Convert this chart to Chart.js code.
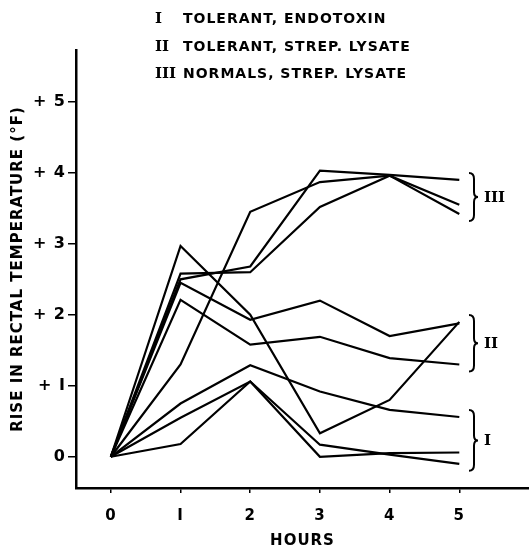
<!DOCTYPE html>
<html lang="en">

<head>
    <meta charset="UTF-8">
    <title>Rise in rectal temperature</title>
    <script src="https://cdn.jsdelivr.net/npm/chart.js"></script>
    <style>
        body {
            margin: 0;
            background: #fff;
        }

        #chart-container {
            width: 529px;
            height: 550px;
        }
    </style>
</head>

<body>
    <div id="chart-container">
        <canvas id="tempChart" width="529" height="550"></canvas>
    </div>

    <script>
        // hours after injection
        const hours = [0, 1, 2, 3, 4, 5];
        const yTicks = [0, 1, 2, 3, 4, 5];

        // I  tolerant, endotoxin
        const tolEndo1 = [0, 0.75, 1.29, 0.92, 0.66, 0.56];
        const tolEndo2 = [0, 0.55, 1.06, 0.17, 0.03, -0.1];
        const tolEndo3 = [0, 0.18, 1.06, 0.0, 0.05, 0.06];
        // II tolerant, strep. lysate
        const tolStrep1 = [0, 2.97, 2.0, 0.33, 0.8, 1.9];
        const tolStrep2 = [0, 2.45, 1.93, 2.2, 1.7, 1.88];
        const tolStrep3 = [0, 2.21, 1.58, 1.69, 1.39, 1.3];
        // III normals, strep. lysate
        const normStrep1 = [0, 1.3, 3.45, 3.87, 3.96, 3.55];
        const normStrep2 = [0, 2.5, 2.68, 4.03, 3.97, 3.9];
        const normStrep3 = [0, 2.58, 2.6, 3.52, 3.96, 3.42];

        const groups = [
            { numeral: 'I', text: 'TOLERANT, ENDOTOXIN', series: [tolEndo1, tolEndo2, tolEndo3] },
            { numeral: 'II', text: 'TOLERANT, STREP. LYSATE', series: [tolStrep1, tolStrep2, tolStrep3] },
            { numeral: 'III', text: 'NORMALS, STREP. LYSATE', series: [normStrep1, normStrep2, normStrep3] }
        ];

        const FONT = '"DejaVu Sans", sans-serif';
        const NUMFONT = '"DejaVu Serif", serif';

        const datasets = [];
        groups.forEach(g => {
            g.series.forEach(s => {
                datasets.push({
                    label: g.numeral,
                    data: hours.map((h, i) => ({ x: h, y: s[i] })),
                    borderColor: '#000',
                    borderWidth: 2.2,
                    pointRadius: 0,
                    tension: 0,
                    fill: false
                });
            });
        });

        // lettering in the original is widely spaced
        const spacing = {
            id: 'spacing',
            beforeUpdate(chart) { chart.ctx.letterSpacing = '1px'; },
            beforeDraw(chart) { chart.ctx.letterSpacing = '1px'; }
        };

        // key at the top and the braces on the right
        const decorations = {
            id: 'decorations',
            afterDraw(chart) {
                const ctx = chart.ctx;
                const ys = chart.scales.y;
                ctx.save();
                ctx.fillStyle = '#000';
                ctx.strokeStyle = '#000';
                ctx.textBaseline = 'middle';

                // key
                const keyY = [19, 47, 74];
                groups.forEach((g, i) => {
                    ctx.letterSpacing = '0px';
                    ctx.font = 'bold 15px ' + NUMFONT;
                    ctx.textAlign = 'left';
                    ctx.fillText(g.numeral, 155, keyY[i]);
                    ctx.letterSpacing = '1px';
                    ctx.font = 'bold 14px ' + FONT;
                    ctx.fillText(g.text, 183, keyY[i]);
                });

                // braces at the end of each group
                groups.forEach(g => {
                    const ends = g.series.map(s => s[s.length - 1]);
                    const top = ys.getPixelForValue(Math.max(...ends)) - 7;
                    const bot = ys.getPixelForValue(Math.min(...ends)) + 7;
                    const mid = (top + bot) / 2;
                    const x0 = 469;
                    ctx.lineWidth = 2;
                    ctx.beginPath();
                    ctx.moveTo(x0, top);
                    ctx.quadraticCurveTo(x0 + 5, top, x0 + 5, top + 6);
                    ctx.lineTo(x0 + 5, mid - 5);
                    ctx.quadraticCurveTo(x0 + 5, mid, x0 + 9, mid);
                    ctx.quadraticCurveTo(x0 + 5, mid, x0 + 5, mid + 5);
                    ctx.lineTo(x0 + 5, bot - 6);
                    ctx.quadraticCurveTo(x0 + 5, bot, x0, bot);
                    ctx.stroke();
                    ctx.letterSpacing = '0px';
                    ctx.font = 'bold 15px ' + NUMFONT;
                    ctx.textAlign = 'left';
                    ctx.fillText(g.numeral, 484, mid + 1);
                });
                ctx.restore();
            }
        };

        const ctx = document.getElementById('tempChart').getContext('2d');
        new Chart(ctx, {
            type: 'line',
            data: { datasets: datasets },
            options: {
                responsive: false,
                animation: false,
                layout: { padding: { top: 50, right: 0, left: 0, bottom: 0 } },
                plugins: {
                    legend: { display: false },
                    tooltip: { enabled: false }
                },
                scales: {
                    x: {
                        type: 'linear',
                        min: -0.5,
                        max: 6.0,
                        afterBuildTicks: s => { s.ticks = hours.map(v => ({ value: v })); },
                        afterFit: s => { s.height = 62; },
                        border: { color: '#000', width: 2.5 },
                        grid: { display: true, drawOnChartArea: false, color: '#000', tickLength: 5, lineWidth: 1.5 },
                        ticks: {
                            color: '#000',
                            padding: 14,
                            font: { family: FONT, size: 15, weight: 'bold' },
                            callback: v => (v === 1 ? 'I' : String(v))
                        },
                        title: {
                            display: true,
                            text: 'HOURS',
                            color: '#000',
                            font: { family: FONT, size: 15, weight: 'bold' },
                            padding: { top: 0, bottom: 0 }
                        }
                    },
                    y: {
                        min: -0.44,
                        max: 5.73,
                        afterBuildTicks: s => { s.ticks = yTicks.map(v => ({ value: v })); },
                        afterFit: s => { s.width = 76; },
                        border: { color: '#000', width: 2.5 },
                        grid: { display: true, drawOnChartArea: false, color: '#000', tickLength: 8, lineWidth: 1.5 },
                        ticks: {
                            color: '#000',
                            padding: 2,
                            font: { family: FONT, size: 16, weight: 'bold' },
                            callback: v => (v > 0 ? '+ ' + (v === 1 ? 'I' : v) : String(v))
                        },
                        title: {
                            display: true,
                            text: 'RISE IN RECTAL TEMPERATURE (°F)',
                            color: '#000',
                            font: { family: FONT, size: 15, weight: 'bold' },
                            padding: { top: 9, bottom: 0 }
                        }
                    }
                }
            },
            plugins: [spacing, decorations]
        });
    </script>
</body>

</html>
